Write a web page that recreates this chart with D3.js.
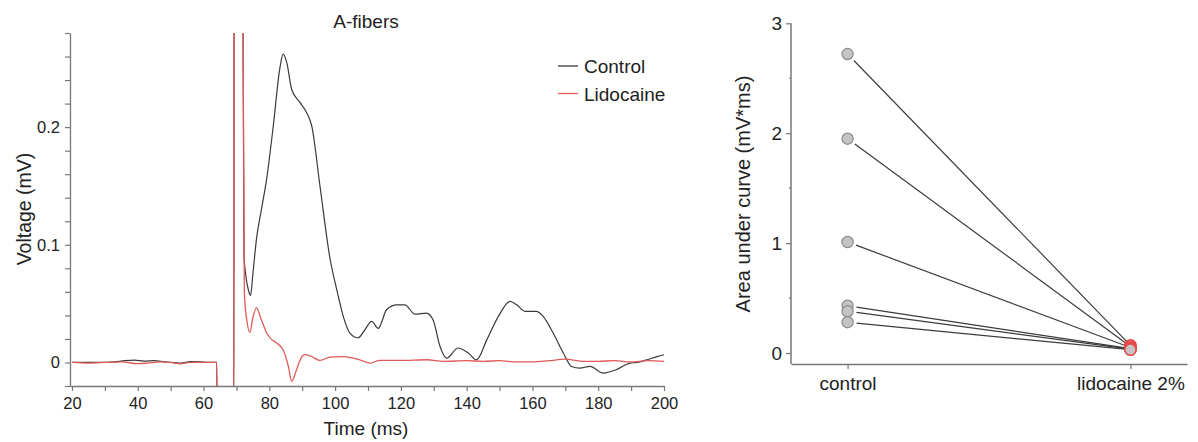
<!DOCTYPE html>
<html><head><meta charset="utf-8">
<script src="https://cdn.jsdelivr.net/npm/d3@7"></script>
<style>
html,body{margin:0;padding:0;background:#fff;}
svg{display:block;font-family:"Liberation Sans",Arial,sans-serif;}
</style></head>
<body><svg id="c" width="1198" height="442"></svg>
<script>
// ---- Left panel data: A-fibers traces ----
const controlT = [20,25,30,33,36,39,42,45,47,50,53,56,59,62,64.0,64.1,69.2,69.3,71.9,72.3,72.8,73.6,74.3,75.0,76.1,77.6,79.2,81.2,83.2,84.2,85.3,86.8,89.3,91.3,92.9,95.4,98.5,100.5,102.5,104.5,107.0,109.1,111.1,113.1,115.7,118.7,121.2,124.3,127.8,129.8,131.9,133.9,137.4,140.5,143.0,146.1,149.6,153.2,155.2,157.7,161.2,163.3,166.3,169.4,171.9,174.4,177.5,181.5,185.6,189.7,191.8,194.8,197.9,200];
const controlV = [0,0,0,0.0005,0.0015,0.002,0.0012,0.0015,0.001,0,-0.0005,0.0008,0.0005,0,0,-0.05,-0.05,0.35,0.35,0.09,0.075,0.062,0.057,0.075,0.105,0.13,0.156,0.201,0.25,0.262,0.255,0.232,0.221,0.2125,0.201,0.150,0.0875,0.062,0.039,0.025,0.021,0.028,0.035,0.029,0.045,0.049,0.049,0.041,0.042,0.036,0.0136,0.0037,0.0123,0.008,0.0023,0.019,0.039,0.052,0.049,0.0435,0.0435,0.039,0.025,0.008,-0.0034,-0.0048,-0.0034,-0.009,-0.006,-0.0005,0,0.0023,0.005,0.0066];
const lidoT = [20,25,30,35,40,43,47,50,53,56,60,64.0,64.1,69.2,69.3,71.9,72.4,73.2,74.1,75.0,76.1,77.5,79.2,80.5,82.2,84.2,85.8,86.8,88.3,89.5,90.8,92.9,95.4,98.5,102.5,107.5,110.6,113.6,120,128,133,140,145,150,155,160,165,170,175,180,185,190,195,200];
const lidoV = [0,-0.0005,0,0.0005,-0.001,-0.0005,0.0005,0,-0.0012,0,0,0,-0.05,-0.05,0.35,0.35,0.06,0.035,0.0256,0.038,0.0464,0.037,0.025,0.02,0.0165,0.0108,-0.0034,-0.016,-0.006,0.003,0.0066,0.005,0.0017,0.0046,0.005,0.0023,-0.0005,0.0017,0.0017,0.0023,0.001,0.0015,0.001,0.0015,0.0005,0.0005,0.0015,0.0028,0.001,0.001,0.0015,0.0005,0.0015,0.001];
const xTicks = d3.range(20, 201, 10);
const xTickLabels = [20,40,60,80,100,120,140,160,180,200];
const yTicks = d3.range(-0.02, 0.2801, 0.02).map(v => +v.toFixed(2));
const yTickLabels = [0, 0.1, 0.2];
const seriesNames = ["Control", "Lidocaine"];

// ---- Right panel data: area under curve ----
const groups = ["control", "lidocaine 2%"];
const aucControl = [2.72, 1.95, 1.01, 0.43, 0.38, 0.28];
const aucLido = [0.07, 0.06, 0.05, 0.04, 0.035, 0.03];
const aucTicks = [0, 1, 2, 3];
const aucMinorTicks = [0.5, 1.5, 2.5];

const svg = d3.select("#c");
const txt = "#222", axisC = "#777";
const blackC = "#3a3a3a", redC = "#e05a5a";

// ===== Left panel =====
const x = d3.scaleLinear().domain([19.4, 200]).range([70, 664]);
const y = d3.scaleLinear().domain([-0.02, 0.28]).range([386, 33]);
const L = svg.append("g");

L.append("defs").append("clipPath").attr("id","clipL")
  .append("rect").attr("x",70).attr("y",33).attr("width",594).attr("height",353);

const line = d3.line().x(d => x(d[0])).y(d => y(d[1])).curve(d3.curveMonotoneX);
const ctrl = controlT.map((t,i) => [t, controlV[i]]);
const lido = lidoT.map((t,i) => [t, lidoV[i]]);
const traces = L.append("g").attr("clip-path","url(#clipL)");
traces.append("path").attr("d", line(ctrl)).attr("fill","none").attr("stroke",blackC).attr("stroke-width",1.2);
traces.append("path").attr("d", line(lido)).attr("fill","none").attr("stroke",redC).attr("stroke-width",1.3);

// x axis
const xAxis = d3.axisBottom(x).tickValues(xTicks).tickSize(5).tickSizeOuter(0)
  .tickFormat(d => xTickLabels.includes(d) ? d : "");
const gx = L.append("g").attr("transform","translate(0,386)").call(xAxis);
gx.select(".domain").attr("stroke",axisC).attr("stroke-width",1.3);
gx.selectAll(".tick line").attr("stroke",axisC).attr("stroke-width",1.2);
gx.selectAll(".tick text").attr("fill",txt).attr("font-size",16.5).attr("font-family","Liberation Sans, Arial").attr("dy","1.05em").attr("y",6);

// y axis
const yAxis = d3.axisLeft(y).tickValues(yTicks).tickSize(5).tickSizeOuter(0)
  .tickFormat(d => yTickLabels.some(v => Math.abs(v-d) < 1e-9) ? d3.format("~g")(d) : "");
const gy = L.append("g").attr("transform","translate(70,0)").call(yAxis);
gy.select(".domain").attr("stroke",axisC).attr("stroke-width",1.3);
gy.selectAll(".tick line").attr("stroke",axisC).attr("stroke-width",1.2);
gy.selectAll(".tick text").attr("fill",txt).attr("font-size",16.5).attr("font-family","Liberation Sans, Arial").attr("x",-10);

// titles
L.append("text").attr("x",366).attr("y",28).attr("text-anchor","middle").attr("font-size",19).attr("fill",txt).text("A-fibers");
L.append("text").attr("x",366).attr("y",435).attr("text-anchor","middle").attr("font-size",19).attr("fill",txt).text("Time (ms)");
L.append("text").attr("transform","translate(31,209) rotate(-90)").attr("text-anchor","middle").attr("font-size",19.5).attr("fill",txt).text("Voltage (mV)");

// legend
const leg = L.append("g");
[blackC, redC].forEach((c,i) => {
  const yy = 66 + i*27.5;
  leg.append("line").attr("x1",558).attr("x2",578).attr("y1",yy).attr("y2",yy).attr("stroke",c).attr("stroke-width",1.3);
  leg.append("text").attr("x",584).attr("y",yy+7).attr("font-size",19).attr("fill",txt).text(seriesNames[i]);
});

// ===== Right panel =====
const xr = d3.scalePoint().domain(groups).range([791, 1187]).padding(0.2);
const yr = d3.scaleLinear().domain([-0.1, 3]).range([364, 23.3]);
const R = svg.append("g");

const gxr = R.append("g").attr("transform","translate(0,364)")
  .call(d3.axisBottom(xr).tickSize(5).tickSizeOuter(0));
gxr.select(".domain").attr("stroke",axisC).attr("stroke-width",1.5);
gxr.selectAll(".tick line").attr("stroke",axisC).attr("stroke-width",1.2);
gxr.selectAll(".tick text").attr("fill",txt).attr("font-size",19).attr("font-family","Liberation Sans, Arial").attr("dy","0.95em").attr("y",8);

const gyr = R.append("g").attr("transform","translate(791,0)")
  .call(d3.axisLeft(yr).tickValues(aucTicks).tickSize(5).tickSizeOuter(0).tickFormat(d3.format("d")));
gyr.select(".domain").attr("stroke",axisC).attr("stroke-width",1.5)
  .attr("d", `M0,${yr(3)}V${yr(-0.1)}`);
gyr.selectAll(".tick line").attr("stroke",axisC).attr("stroke-width",1.2);
gyr.selectAll(".tick text").attr("fill",txt).attr("font-size",19).attr("font-family","Liberation Sans, Arial").attr("x",-9);
R.append("g").selectAll("line").data(aucMinorTicks).join("line")
  .attr("x1",789).attr("x2",791).attr("y1",d=>yr(d)).attr("y2",d=>yr(d)).attr("stroke",axisC).attr("stroke-width",1.2);

R.append("text").attr("transform","translate(750,194) rotate(-90)").attr("text-anchor","middle").attr("font-size",20).attr("fill",txt).text("Area under curve (mV*ms)");

// connecting lines (start a little outside control markers)
const pairs = aucControl.map((v,i) => ({c:v, l:aucLido[i]}));
R.append("g").selectAll("line").data(pairs).join("line")
  .each(function(d){
    const x1 = xr(groups[0]), y1 = yr(d.c), x2 = xr(groups[1]), y2 = yr(d.l);
    const len = Math.hypot(x2-x1, y2-y1), g = 9;
    d3.select(this).attr("x1", x1 + (x2-x1)*g/len).attr("y1", y1 + (y2-y1)*g/len).attr("x2", x2).attr("y2", y2);
  })
  .attr("stroke","#3c3c3c").attr("stroke-width",1.2);

R.append("g").selectAll("circle").data(aucControl).join("circle")
  .attr("cx", xr(groups[0])).attr("cy", d => yr(d)).attr("r",5.6)
  .attr("fill","#c4c4c4").attr("stroke","#8a8a8a").attr("stroke-width",1.2);
R.append("g").selectAll("circle").data(aucLido).join("circle")
  .attr("cx", xr(groups[1])).attr("cy", d => yr(d)).attr("r",5.6)
  .attr("fill","#c4c4c4").attr("stroke","#e84848").attr("stroke-width",1.5);
</script>
</body></html>
